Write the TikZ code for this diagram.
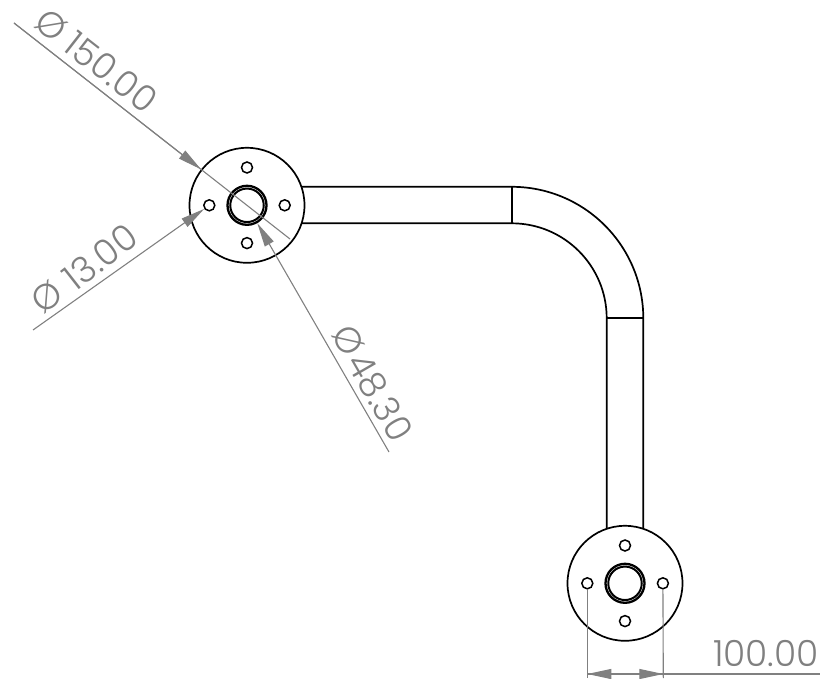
\documentclass[tikz,border=0pt]{standalone}
\usepackage{fontspec}
\setmainfont{Poppins Light}
\usetikzlibrary{arrows.meta}
\definecolor{dimgray}{HTML}{808080}
\tikzset{
  outline/.style={draw=black,line width=1.7pt},
  seam/.style={draw=black,line width=2.2pt},
  flange/.style={circle,outline,fill=white,minimum size=115pt,inner sep=0pt},
  bolt/.style={circle,draw=black,line width=1.5pt,fill=white,minimum size=11pt,inner sep=0pt},
  boreout/.style={circle,draw=black,line width=2.3pt,minimum size=39pt,inner sep=0pt},
  borein/.style={circle,draw=black,line width=2pt,minimum size=33.5pt,inner sep=0pt},
  dimline/.style={draw=dimgray,line width=1.1pt},
  dimarrow/.style={dimline,-{Triangle[length=24pt,width=10pt,fill=dimgray]}},
  dimtext/.style={text=dimgray,font=\fontsize{36}{37}\selectfont,inner sep=0pt}
}
\begin{document}
\begin{tikzpicture}[x=1pt,y=-1pt]
\useasboundingbox (0,0) rectangle (820,679);
% pipe
\draw[outline] (300,186.8) -- (511.7,186.8) arc[start angle=-90,end angle=0,radius=131.6] -- (643.3,530);
\draw[outline] (300,223.3) -- (511.7,223.3) arc[start angle=-90,end angle=0,radius=95] -- (606.7,530);
\draw[seam] (511.7,186.8) -- (511.7,223.3);
\draw[seam] (606.7,318.3) -- (643.3,318.3);
% left flange
\node[flange] (fL) at (247,205.3) {};
\node[boreout] (bL) at (fL) {};
\node[borein] at (fL) {};
\node[bolt] (hLn) at (247,167.5) {};
\node[bolt] (hLs) at (247,243.1) {};
\node[bolt] (hLw) at (209.3,205.3) {};
\node[bolt] (hLe) at (284.7,205.3) {};
% bottom flange
\node[flange] (fB) at (625,583.3) {};
\node[boreout] (bB) at (fB) {};
\node[borein] at (fB) {};
\node[bolt] (hBn) at (625,545.5) {};
\node[bolt] (hBs) at (625,621.1) {};
\node[bolt] (hBw) at (587.3,583.3) {};
\node[bolt] (hBe) at (662.9,583.3) {};
% leader end points
\coordinate (a150) at (14,23);
\coordinate (e150) at (290,239);
\coordinate (a13) at (33,330);
\coordinate (a48) at (389,452);
\coordinate (b1) at (587.3,678);
\coordinate (b2) at (663.3,678);
\coordinate (d1) at (587.3,674);
\coordinate (d2) at (663.3,674);
\coordinate (dEnd) at (820,674);
% leaders
\draw[dimline] (a150) -- (e150);
\draw[dimarrow] (a150) -- (fL);
\draw[dimarrow] (a13) -- (hLw);
\draw[dimarrow] (a48) -- (bL);
\draw[dimline] (hBw) -- (b1);
\draw[dimline] (hBe) -- (b2);
\draw[dimline] (d1) -- (dEnd);
\draw[dimarrow] (613,674) -- (d1);
\draw[dimarrow] (637,674) -- (d2);
% labels
\node[dimtext,rotate=-38] (p150) at (51,25.7) {Ø};
\node[dimtext,rotate=-38] (t150) at (111,72) {150.00};
\node[dimtext,rotate=38] (p13) at (46.7,296.7) {Ø};
\node[dimtext,rotate=38] (t13) at (100,257) {13.00};
\node[dimtext,rotate=-60] (p48) at (349,340) {Ø};
\node[dimtext,rotate=-60] (t48) at (380,397) {48.30};
\node[dimtext] (t100) at (766,653.5) {100.00};
\end{tikzpicture}
\end{document}
